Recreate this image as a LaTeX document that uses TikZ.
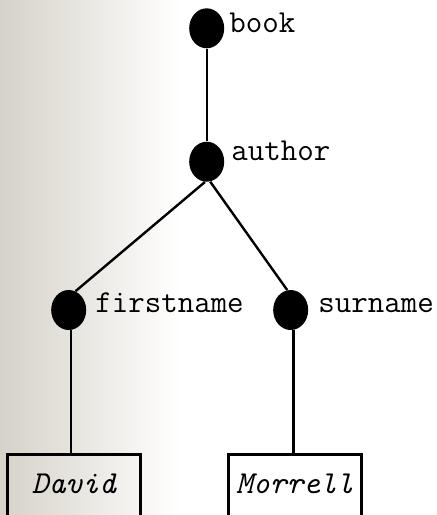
\documentclass[tikz,border=0pt]{standalone}
\usepackage{fontspec}
\usetikzlibrary{shapes.geometric}
\definecolor{bgleft}{RGB}{214,210,201}
\tikzset{
  dot/.style={ellipse, fill=black, draw=none, minimum width=17.5pt, minimum height=20pt, inner sep=0pt},
  lbl/.style={anchor=base west, inner sep=0pt, font=\fontsize{16}{18}\selectfont\ttfamily},
  valbox/.style={draw=black, line width=1.3pt, anchor=north, minimum width=66.5pt, inner xsep=0pt, inner ysep=0pt,
    text height=19.2pt, text depth=30pt, font=\fontsize{16}{18}\selectfont\ttfamily\itshape},
  edge/.style={draw=black, line width=1.2pt}
}
\begin{document}
\begin{tikzpicture}[x=0.5pt,y=-0.5pt]
\useasboundingbox (0,0) rectangle (437,515);
\clip (0,0) rectangle (437,515);
\shade[left color=bgleft, right color=white, draw=none] (0,0) rectangle (180,515);
\fill[white] (180,0) rectangle (437,515);

\node[dot] (book) at (206.7,28.3) {};
\node[dot] (author) at (206.7,161.7) {};
\node[dot] (firstname) at (68.7,310) {};
\node[dot] (surname) at (290.7,310) {};

\node[lbl] (booklbl) at (229,32.5) {book};
\node[lbl] (authorlbl) at (231,160) {author};
\node[lbl] (firstnamelbl) at (95,312) {firstname};
\node[lbl] (surnamelbl) at (318,312) {surname};

\node[valbox] (david) at (74,453.3) {David};
\node[valbox] (morrell) at (295,453.3) {Morrell};

\path[edge] (book) -- (author);
\path[edge] (author.265) -- (firstname.70);
\path[edge] (author.280) -- (surname.100);
\path[edge] ([xshift=1.2pt]firstname.south) -- ([xshift=1.2pt]firstname.south |- david.north);
\path[edge] ([xshift=1.3pt]surname.south) -- ([xshift=1.3pt]surname.south |- morrell.north);
\end{tikzpicture}
\end{document}
